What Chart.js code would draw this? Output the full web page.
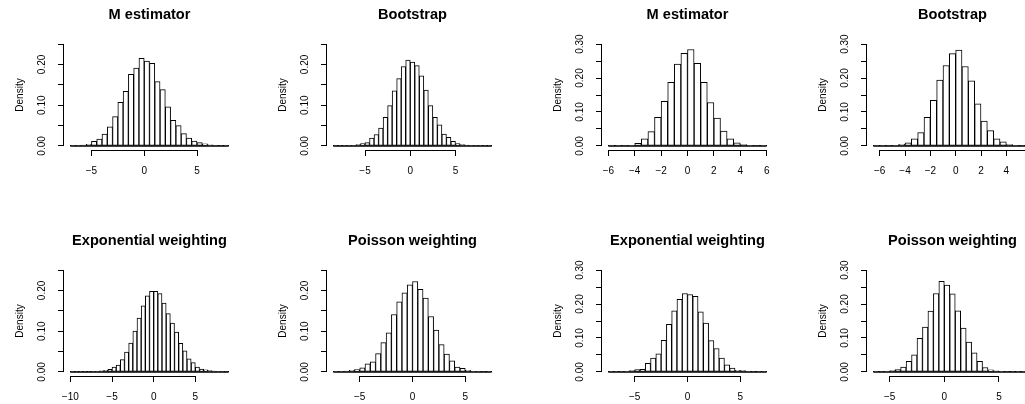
<!DOCTYPE html>
<html>
<head>
<meta charset="utf-8">
<script src="https://cdn.jsdelivr.net/npm/chart.js@4.4.1/dist/chart.umd.min.js"></script>
<style>
  html, body { margin: 0; padding: 0; background: #fff; }
  body { width: 1025px; height: 404px; position: relative; overflow: hidden; }
  canvas { position: absolute; }
</style>
</head>
<body>
<script>
// histogram densities, bins of width 0.5 starting at breakStart
const binWidth = 0.5;
const mEstLeft = [0.0005, 0.001, 0.002, 0.004, 0.011, 0.017, 0.029, 0.047, 0.072, 0.107, 0.134, 0.176, 0.191, 0.215, 0.208,
                  0.203, 0.158, 0.138, 0.096, 0.063, 0.050, 0.030, 0.019, 0.012, 0.008, 0.005, 0.0025, 0.001, 0.0008, 0.0005];
const bootLeft = [0.0002, 0.0003, 0.0005, 0.001, 0.0015, 0.003, 0.006, 0.008, 0.019, 0.028, 0.044, 0.070, 0.099, 0.135, 0.165,
                  0.195, 0.211, 0.206, 0.197, 0.172, 0.137, 0.099, 0.070, 0.052, 0.029, 0.021, 0.011, 0.006, 0.003, 0.002,
                  0.0015, 0.001, 0.0005, 0.0003, 0.0002];
const mEstRight = [0.0003, 0.0005, 0.001, 0.002, 0.008, 0.021, 0.042, 0.084, 0.131, 0.187, 0.241, 0.273,
                   0.284, 0.243, 0.187, 0.128, 0.082, 0.044, 0.021, 0.009, 0.004, 0.0015, 0.0008, 0.0004];
const bootRight = [0.0003, 0.0005, 0.001, 0.002, 0.005, 0.009, 0.021, 0.039, 0.084, 0.134, 0.194, 0.237, 0.272,
                   0.282, 0.234, 0.192, 0.124, 0.073, 0.045, 0.021, 0.012, 0.004, 0.002, 0.001, 0.0005];
const expLeft = [0.0003, 0.0003, 0.0005, 0.0005, 0.0008, 0.001, 0.0015, 0.0025, 0.004, 0.0065, 0.012, 0.017, 0.030,
                 0.049, 0.071, 0.100, 0.132, 0.162, 0.187, 0.198, 0.198, 0.192, 0.169, 0.143, 0.120, 0.098, 0.070,
                 0.052, 0.032, 0.023, 0.012, 0.007, 0.005, 0.003, 0.002, 0.0015, 0.001, 0.0008];
const poisLeft = [0.0005, 0.001, 0.002, 0.004, 0.006, 0.010, 0.020, 0.025, 0.045, 0.072, 0.096, 0.141, 0.172, 0.194, 0.214,
                  0.222, 0.203, 0.181, 0.136, 0.103, 0.067, 0.044, 0.027, 0.012, 0.009, 0.004, 0.0016, 0.001, 0.0007, 0.0005];
const expRight = [0.0005, 0.0007, 0.001, 0.002, 0.004, 0.007, 0.008, 0.025, 0.041, 0.053, 0.093, 0.140, 0.180, 0.214, 0.231,
                  0.228, 0.223, 0.177, 0.144, 0.092, 0.069, 0.041, 0.021, 0.011, 0.005, 0.004, 0.002, 0.001, 0.0007, 0.0005];
const poisRight = [0.0005, 0.001, 0.002, 0.004, 0.007, 0.014, 0.031, 0.050, 0.099, 0.132, 0.179, 0.231, 0.267, 0.256,
                   0.230, 0.180, 0.129, 0.088, 0.056, 0.031, 0.013, 0.006, 0.003, 0.002, 0.001, 0.0008, 0.0005, 0.0003, 0.0002];

const titles = ["M estimator", "Bootstrap", "M estimator", "Bootstrap",
                "Exponential weighting", "Poisson weighting", "Exponential weighting", "Poisson weighting"];
const series = [mEstLeft, bootLeft, mEstRight, bootRight, expLeft, poisLeft, expRight, poisRight];
const breakStart = [-7, -8.5, -6, -6.5, -10, -7.5, -7.5, -6.5];
const xTicks = [[-5, 0, 5], [-5, 0, 5], [-6, -4, -2, 0, 2, 4, 6], [-6, -4, -2, 0, 2, 4, 6],
                [-10, -5, 0, 5], [-5, 0, 5], [-5, 0, 5], [-5, 0, 5]];
const yTicksLeft = [0, 0.05, 0.10, 0.15, 0.20, 0.25];
const yTicksRight = [0, 0.05, 0.10, 0.15, 0.20, 0.25, 0.30];
const yLabelled = [0, 0.10, 0.20, 0.30];

// where each plot region sits on the page
const axisX = [64, 327, 602, 867, 64, 327, 602, 867];
const plotTop = [40, 40, 40, 40, 266, 266, 266, 266];
const plotW = 171, plotH = 110;

const font = "'Liberation Sans', Arial, Helvetica, sans-serif";
Chart.defaults.color = "#000";
Chart.defaults.font.family = font;

const minus = v => (v < 0 ? "\u2212" + (-v) : String(v));

// R style axis lines: only from first to last tick
const rAxes = {
  id: "rAxes",
  afterDraw(chart) {
    const { ctx, chartArea: a, scales: { x, y } } = chart;
    const xt = x.ticks, yt = y.ticks;
    ctx.save();
    ctx.strokeStyle = "#000";
    ctx.lineWidth = 1;
    ctx.beginPath();
    const by = Math.round(a.bottom) + 0.5;
    ctx.moveTo(x.getPixelForValue(xt[0].value), by);
    ctx.lineTo(x.getPixelForValue(xt[xt.length - 1].value), by);
    const lx = Math.round(a.left) - 0.5;
    ctx.moveTo(lx, y.getPixelForValue(yt[0].value));
    ctx.lineTo(lx, y.getPixelForValue(yt[yt.length - 1].value));
    ctx.stroke();
    ctx.restore();
  }
};

series.forEach((vals, i) => {
  const start = breakStart[i];
  const end = start + vals.length * binWidth;
  const range = end - start;
  const right = i % 4 >= 2;
  const ylim = right ? 0.30 : 0.25;
  const yt = right ? yTicksRight : yTicksLeft;
  const xt = xTicks[i];

  const cv = document.createElement("canvas");
  cv.width = 256;
  cv.height = 190;
  cv.style.left = (axisX[i] - 64) + "px";
  cv.style.top = (plotTop[i] - 40) + "px";
  document.body.appendChild(cv);

  const bars = vals.map((d, k) => ({ x: start + (k + 0.5) * binWidth, y: d }));
  const base = [{ x: start, y: 0 }, { x: end, y: 0 }];

  new Chart(cv, {
    type: "bar",
    data: {
      datasets: [
        { type: "line", data: base, borderColor: "#000", borderWidth: 1.4, pointRadius: 0, order: 0 },
        { type: "bar", data: bars, backgroundColor: "#fff", borderColor: "#000", borderWidth: 1,
          borderSkipped: false, barPercentage: 1, categoryPercentage: 1, order: 1 }
      ]
    },
    options: {
      responsive: false,
      animation: false,
      devicePixelRatio: 1,
      events: [],
      layout: { padding: { left: 0, right: 256 - 64 - plotW, top: 0, bottom: 0 } },
      plugins: {
        legend: { display: false },
        tooltip: { enabled: false },
        title: {
          display: true, text: titles[i], fullSize: false, color: "#000",
          font: { family: font, size: 14.6, weight: "bold" },
          padding: { top: 6.2, bottom: 16.28 }
        }
      },
      scales: {
        x: {
          type: "linear",
          offset: false,
          min: start - 0.04 * range,
          max: end + 0.04 * range,
          afterBuildTicks: s => { s.ticks = xt.map(v => ({ value: v })); },
          afterFit: s => { s.height = 40; },
          border: { display: false },
          grid: { offset: false, drawOnChartArea: false, drawTicks: true, tickLength: 6, color: "#000", lineWidth: 1 },
          ticks: { autoSkip: false, maxRotation: 0, padding: 9, color: "#000",
                   font: { family: font, size: 10 }, callback: v => minus(v) }
        },
        y: {
          type: "linear",
          min: -0.04 * ylim,
          max: ylim * 1.04,
          afterBuildTicks: s => { s.ticks = yt.map(v => ({ value: v })); },
          afterFit: s => { s.width = 64; },
          border: { display: false },
          grid: { drawOnChartArea: false, drawTicks: true, tickLength: 6, color: "#000", lineWidth: 1 },
          title: { display: true, text: "Density", color: "#000",
                   font: { family: font, size: 10 }, padding: { top: 14, bottom: 0 } },
          ticks: {
            autoSkip: false, minRotation: 90, maxRotation: 90, crossAlign: "center", padding: 6,
            color: "#000", font: { family: font, size: 10 },
            callback: v => (yLabelled.some(l => Math.abs(l - v) < 1e-9) ? v.toFixed(2) : "")
          }
        }
      }
    },
    plugins: [rAxes]
  });
});
</script>
</body>
</html>
